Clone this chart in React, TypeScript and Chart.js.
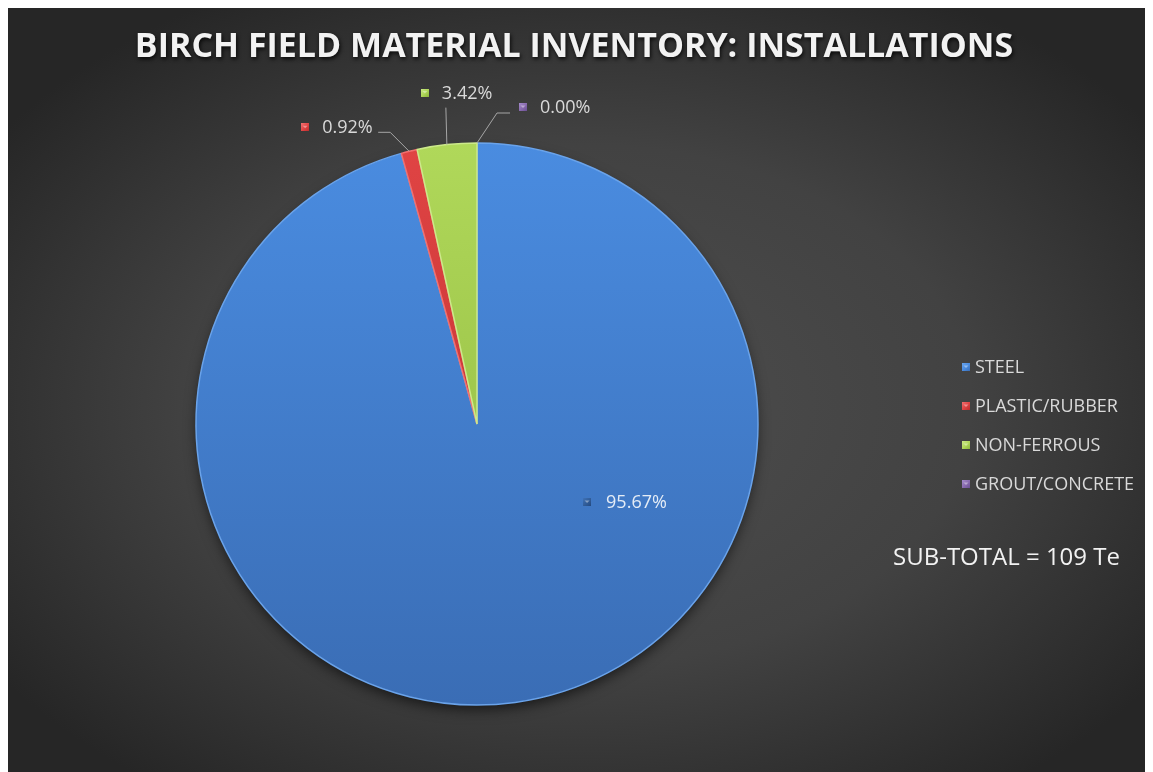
import React, { useEffect, useRef } from "react";
import { Chart, registerables } from "chart.js";

Chart.register(...registerables);

// ---- data ----
const TITLE = "BIRCH FIELD MATERIAL INVENTORY: INSTALLATIONS";
const categories = ["STEEL", "PLASTIC/RUBBER", "NON-FERROUS", "GROUT/CONCRETE"];
const percentages = [95.67, 0.92, 3.42, 0.0];
const percentLabels = ["95.67%", "0.92%", "3.42%", "0.00%"];
const subTotalLabel = "SUB-TOTAL = 109 Te";

// ---- styles ----
const sliceTop = ["#4a8ce0", "#e04444", "#b0d85a", "#8a6cb0"];
const sliceBottom = ["#3a6db5", "#b82c2c", "#8db53c", "#6a4f92"];
const sliceRim = ["#6aa3ea", "#f07070", "#cce98a", "#a58ccc"];
const FONT = "'Open Sans', 'DejaVu Sans', sans-serif";

type LabelLayout =
  | { kind: "inside"; angleDeg: number; radiusFrac: number }
  | { kind: "outside"; marker: [number, number]; leader: [number, number][] };
const labelLayouts: LabelLayout[] = [
  { kind: "inside", angleDeg: 35.3, radiusFrac: 0.48 },
  { kind: "outside", marker: [-104, -24], leader: [[-31, -19], [-19, -19]] },
  { kind: "outside", marker: [-22, -52], leader: [[-1, -37]] },
  { kind: "outside", marker: [46, -36], leader: [[33, -30], [20, -30]] },
];

function drawMarker(ctx: CanvasRenderingContext2D, x: number, y: number, i: number, dark = false) {
  const s = 8;
  const g = ctx.createLinearGradient(x - s / 2, y - s / 2, x + s / 2, y + s / 2);
  if (dark) {
    g.addColorStop(0, "#3f73b8");
    g.addColorStop(1, "#24497e");
  } else {
    g.addColorStop(0, sliceRim[i]);
    g.addColorStop(0.5, sliceTop[i]);
    g.addColorStop(1, sliceBottom[i]);
  }
  ctx.fillStyle = g;
  ctx.fillRect(Math.round(x - s / 2), Math.round(y - s / 2), s, s);
  ctx.fillStyle = "rgba(255,255,255,0.4)";
  ctx.beginPath();
  ctx.moveTo(x - 2.5, y - 1.5);
  ctx.lineTo(x + 2.5, y - 1.5);
  ctx.lineTo(x, y + 1);
  ctx.closePath();
  ctx.fill();
}

const decorPlugin = {
  id: "decor",
  beforeDraw(chart: any) {
    const { ctx, width, height } = chart;
    ctx.save();
    const cx = width * 0.5;
    const cy = height * 0.52;
    ctx.translate(cx, cy);
    ctx.scale(1, height / width);
    const g = ctx.createRadialGradient(0, 0, 0, 0, 0, width * 0.62);
    g.addColorStop(0, "#4e4e4e");
    g.addColorStop(0.55, "#424242");
    g.addColorStop(1, "#262626");
    ctx.fillStyle = g;
    ctx.fillRect(-cx, -cy * (width / height), width, width);
    ctx.restore();
  },
  beforeDatasetsDraw(chart: any) {
    const { ctx } = chart;
    const arc = chart.getDatasetMeta(0).data[0];
    if (!arc) return;
    ctx.save();
    ctx.shadowColor = "rgba(0,0,0,0.65)";
    ctx.shadowBlur = 14;
    ctx.shadowOffsetY = 6;
    ctx.fillStyle = "#2a2a2a";
    ctx.beginPath();
    ctx.arc(arc.x, arc.y, arc.outerRadius - 2, 0, Math.PI * 2);
    ctx.fill();
    ctx.restore();
  },
  afterDraw(chart: any) {
    const { ctx } = chart;
    ctx.save();
    ctx.font = `bold 34px ${FONT}`;
    ctx.textAlign = "center";
    ctx.textBaseline = "middle";
    ctx.shadowColor = "rgba(0,0,0,0.85)";
    ctx.shadowBlur = 4;
    ctx.shadowOffsetX = 1;
    ctx.shadowOffsetY = 2;
    ctx.fillStyle = "#f2f2f2";
    ctx.fillText(TITLE, 566, 39);
    ctx.restore();

    const meta = chart.getDatasetMeta(0);
    ctx.save();
    ctx.font = `18px ${FONT}`;
    ctx.textBaseline = "middle";
    ctx.textAlign = "left";
    meta.data.forEach((arc: any, i: number) => {
      const lay = labelLayouts[i];
      const mid = (arc.startAngle + arc.endAngle) / 2;
      if (lay.kind === "inside") {
        const a = (lay.angleDeg * Math.PI) / 180;
        const mx = arc.x + Math.cos(a) * arc.outerRadius * lay.radiusFrac;
        const my = arc.y + Math.sin(a) * arc.outerRadius * lay.radiusFrac;
        drawMarker(ctx, mx, my, i, true);
        ctx.fillStyle = "#e4ecf6";
        ctx.fillText(percentLabels[i], mx + 19, my + 1);
      } else {
        const px = arc.x + Math.cos(mid) * arc.outerRadius;
        const py = arc.y + Math.sin(mid) * arc.outerRadius;
        ctx.strokeStyle = "#a6a6a6";
        ctx.lineWidth = 1;
        ctx.beginPath();
        lay.leader.forEach(([dx, dy], k) => {
          if (k === 0) ctx.moveTo(px + dx, py + dy);
          else ctx.lineTo(px + dx, py + dy);
        });
        ctx.lineTo(px, py);
        ctx.stroke();
        const mx = px + lay.marker[0];
        const my = py + lay.marker[1];
        drawMarker(ctx, mx, my, i);
        ctx.fillStyle = "#d9d9d9";
        ctx.fillText(percentLabels[i], mx + 17, my + 1);
      }
    });
    ctx.restore();

    ctx.save();
    ctx.font = `18px ${FONT}`;
    ctx.textBaseline = "middle";
    ctx.textAlign = "left";
    const legendX = 958;
    const legendY = 359;
    const legendGap = 39;
    categories.forEach((c, i) => {
      const y = legendY + i * legendGap;
      drawMarker(ctx, legendX, y, i);
      ctx.fillStyle = "#d9d9d9";
      ctx.fillText(c, legendX + 9, y + 1);
    });
    ctx.font = `24px ${FONT}`;
    ctx.fillStyle = "#f2f2f2";
    ctx.fillText(subTotalLabel, 885, 550);
    ctx.restore();
  },
};

const sliceFill = (c: any) => {
  const i = c.dataIndex ?? 0;
  const chart = c.chart;
  const area = chart.chartArea;
  if (!area) return sliceTop[i];
  const g = chart.ctx.createLinearGradient(0, area.top, 0, area.bottom);
  g.addColorStop(0, sliceTop[i]);
  g.addColorStop(1, sliceBottom[i]);
  return g;
};

export default function App() {
  const ref = useRef<HTMLCanvasElement | null>(null);
  useEffect(() => {
    document.body.style.overflow = "hidden";
    if (!ref.current) return;
    const chart = new Chart(ref.current, {
      type: "pie",
      data: {
        labels: categories,
        datasets: [
          {
            data: percentages,
            backgroundColor: sliceFill,
            borderColor: sliceRim,
            borderWidth: 1.5,
            hoverOffset: 0,
            radius: 281,
          } as any,
        ],
      },
      options: {
        animation: false,
        responsive: false,
        events: [],
        layout: { padding: { left: 188, right: 395, top: 135, bottom: 67 } },
        plugins: {
          legend: { display: false },
          title: { display: false },
          tooltip: { enabled: false },
        },
      },
      plugins: [decorPlugin],
    });
    return () => chart.destroy();
  }, []);
  return (
    <div style={{ width: 1145, height: 764 }}>
      <canvas ref={ref} width={1145} height={764} style={{ display: "block", width: 1145, height: 764 }} />
    </div>
  );
}
